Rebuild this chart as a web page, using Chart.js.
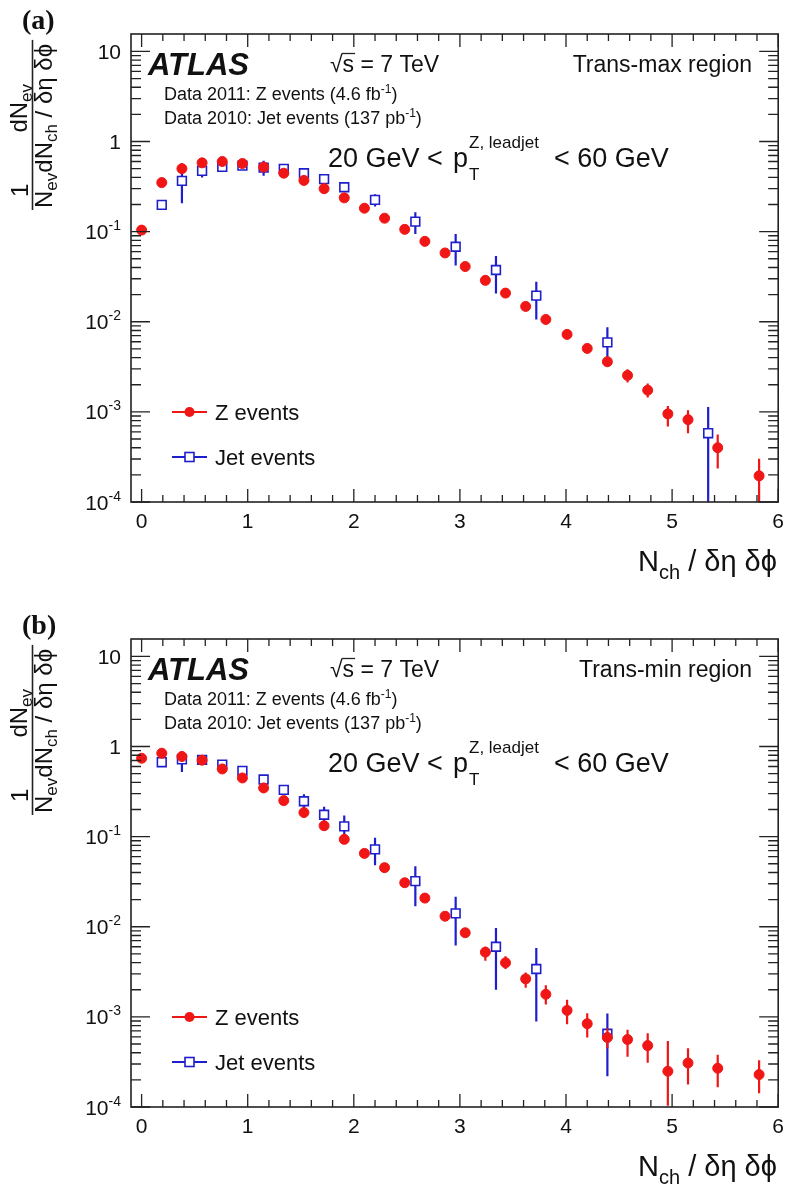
<!DOCTYPE html>
<html>
<head>
<meta charset="utf-8">
<title>Nch density, trans-max / trans-min</title>
<script src="https://cdn.jsdelivr.net/npm/chart.js@4.4.0/dist/chart.umd.min.js"></script>
<style>
  html, body { margin: 0; padding: 0; background: #fff; }
  #page { position: relative; width: 786px; height: 1197px; overflow: hidden; background: #fff; }
  .panel { position: absolute; left: 0; width: 786px; }
</style>
</head>
<body>
<div id="page">
  <div class="panel" style="top:0;height:605px"><canvas id="chartA" width="786" height="605"></canvas></div>
  <div class="panel" style="top:605px;height:592px"><canvas id="chartB" width="786" height="592"></canvas></div>
</div>
<script>
// Axis ticks
const xTicks = [0, 1, 2, 3, 4, 5, 6];
const yTickExps = [-4, -3, -2, -1, 0, 1];

// Z events bin positions (same for both panels)
const zX = [0, 0.19, 0.38, 0.57, 0.76, 0.95, 1.15, 1.34, 1.53, 1.72, 1.91, 2.10, 2.29, 2.48, 2.67,
            2.86, 3.05, 3.24, 3.43, 3.62, 3.81, 4.01, 4.20, 4.39, 4.58, 4.77, 4.96, 5.15, 5.43, 5.82];

// (a) Trans-max region
const zA = [0.104, 0.35, 0.50, 0.58, 0.60, 0.57, 0.52, 0.445, 0.37, 0.30, 0.237, 0.182, 0.141, 0.106, 0.078,
            0.058, 0.041, 0.0288, 0.0208, 0.0148, 0.0106, 0.00724, 0.00506, 0.0036, 0.00254, 0.00174, 0.00095, 0.00082, 0.0004, 0.000195];
const zAlo = [null, null, null, null, null, null, null, null, null, null, null, null, null, null, null,
              null, null, null, null, null, null, 0.0066, 0.0046, 0.0032, 0.00212, 0.00144, 0.00069, 0.00058, 0.000235, 0.00005];
const zAhi = [null, null, null, null, null, null, null, null, null, null, null, null, null, null, null,
              null, null, null, null, null, null, 0.0079, 0.0056, 0.0041, 0.00297, 0.00206, 0.00116, 0.00104, 0.00056, 0.000301];

const jetXA = [0.19, 0.38, 0.57, 0.76, 0.95, 1.15, 1.34, 1.53, 1.72, 1.91, 2.20, 2.58, 2.96, 3.34, 3.72, 4.39, 5.34];
const jetA = [0.198, 0.366, 0.472, 0.524, 0.541, 0.514, 0.497, 0.445, 0.382, 0.311, 0.225, 0.129, 0.068, 0.0375, 0.0195, 0.0059, 0.00058];
const jetAlo = [null, 0.207, 0.398, 0.47, null, 0.416, 0.45, null, null, 0.28, 0.19, 0.094, 0.042, 0.0206, 0.0106, 0.0032, 0.00001];
const jetAhi = [null, 0.575, 0.527, 0.58, null, 0.61, 0.55, null, null, 0.345, 0.26, 0.164, 0.094, 0.0536, 0.0278, 0.0087, 0.00113];

// (b) Trans-min region
const zB = [0.741, 0.843, 0.774, 0.705, 0.564, 0.448, 0.347, 0.251, 0.185, 0.132, 0.0933, 0.0652, 0.0453, 0.0308, 0.0208,
            0.0131, 0.00858, 0.00523, 0.00398, 0.00264, 0.00178, 0.00118, 0.00084, 0.00059, 0.00056, 0.00048, 0.000249, 0.000308, 0.000269, 0.000229];
const zBlo = [null, null, null, null, null, null, null, null, null, null, null, null, null, null, null,
              null, 0.0077, 0.0042, 0.0034, 0.0021, 0.00137, 0.00083, 0.00059, 0.00045, 0.00036, 0.00031, 0.000103, 0.000178, 0.000166, 0.000142];
const zBhi = [null, null, null, null, null, null, null, null, null, null, null, null, null, null, null,
              null, 0.0096, 0.006, 0.0047, 0.0031, 0.00224, 0.00155, 0.0011, 0.00075, 0.00072, 0.00066, 0.00054, 0.00045, 0.00038, 0.00033];

const jetXB = [0.19, 0.38, 0.57, 0.76, 0.95, 1.15, 1.34, 1.53, 1.72, 1.91, 2.20, 2.58, 2.96, 3.34, 3.72, 4.39];
const jetB = [0.67, 0.72, 0.71, 0.63, 0.536, 0.43, 0.33, 0.247, 0.175, 0.13, 0.0722, 0.0321, 0.0141, 0.006, 0.0034, 0.00065];
const jetBlo = [null, 0.52, null, 0.58, null, null, 0.30, 0.20, 0.137, 0.094, 0.048, 0.0169, 0.0062, 0.002, 0.00089, 0.00022];
const jetBhi = [null, 0.89, null, 0.68, null, null, 0.36, 0.295, 0.215, 0.172, 0.0974, 0.047, 0.0215, 0.0097, 0.0058, 0.00109];

// Styling
const FONT = '"Liberation Sans", Arial, Helvetica, sans-serif';
const RED = '#f01616';
const BLUE = '#1e1ecc';
const INK = '#111';
const DETA_DPHI = ' / \u03b4\u03b7 \u03b4\u03d5';

// Draw a run of text pieces (size / vertical shift / style) starting at x
function drawParts(ctx, parts, x, y) {
    let cx = x;
    parts.forEach(p => {
        ctx.font = (p.style || '') + ' ' + p.s + 'px ' + FONT;
        ctx.fillText(p.t, cx, y + (p.dy || 0));
        cx += ctx.measureText(p.t).width;
    });
    return cx;
}

function partsWidth(ctx, parts) {
    let w = 0;
    parts.forEach(p => {
        ctx.font = (p.style || '') + ' ' + p.s + 'px ' + FONT;
        w += ctx.measureText(p.t).width;
    });
    return w;
}

// Vertical error bars, drawn just under each dataset's markers
const errorBars = {
    id: 'errorBars',
    beforeDatasetDraw(chart, args) {
        const ds = chart.data.datasets[args.index];
        if (!ds.errLo) return;
        const ctx = chart.ctx, xs = chart.scales.x, ys = chart.scales.y, a = chart.chartArea;
        ctx.save();
        ctx.beginPath();
        ctx.rect(a.left, a.top, a.right - a.left, a.bottom - a.top);
        ctx.clip();
        ctx.strokeStyle = ds.borderColor;
        ctx.lineWidth = 2.2;
        ds.data.forEach((p, i) => {
            if (ds.errLo[i] == null) return;
            const px = xs.getPixelForValue(p.x);
            ctx.beginPath();
            ctx.moveTo(px, ys.getPixelForValue(ds.errLo[i]));
            ctx.lineTo(px, ys.getPixelForValue(ds.errHi[i]));
            ctx.stroke();
        });
        ctx.restore();
    }
};

// ROOT-like frame, inward ticks, labels and annotations
const rootFrame = {
    id: 'rootFrame',
    afterDraw(chart, args, opts) {
        const ctx = chart.ctx, a = chart.chartArea, xs = chart.scales.x, ys = chart.scales.y;
        ctx.save();
        ctx.strokeStyle = '#222';
        ctx.fillStyle = INK;

        // frame
        ctx.lineWidth = 1.6;
        ctx.strokeRect(a.left, a.top, a.right - a.left, a.bottom - a.top);

        // x ticks (major every 1, minor every 0.2), bottom and top
        ctx.lineWidth = 1.3;
        ctx.beginPath();
        for (let i = 0; i <= 30; i++) {
            const px = xs.getPixelForValue(i * 0.2);
            const len = i % 5 === 0 ? 13 : 7;
            ctx.moveTo(px, a.bottom); ctx.lineTo(px, a.bottom - len);
            ctx.moveTo(px, a.top); ctx.lineTo(px, a.top + len);
        }
        // y ticks (major at decades, minor at 2..9), left and right
        ys.ticks.forEach(t => {
            for (let m = 1; m <= 9; m++) {
                const v = t.value * m;
                if (v > ys.max) break;
                const py = ys.getPixelForValue(v);
                const len = m === 1 ? 19 : 10;
                ctx.moveTo(a.left, py); ctx.lineTo(a.left + len, py);
                ctx.moveTo(a.right, py); ctx.lineTo(a.right - len, py);
            }
        });
        ctx.stroke();

        // x tick labels
        ctx.textAlign = 'center';
        ctx.textBaseline = 'alphabetic';
        ctx.font = '21px ' + FONT;
        xs.ticks.forEach(t => {
            ctx.fillText(String(t.value), xs.getPixelForValue(t.value), a.bottom + 26);
        });

        // y tick labels: 10, 1, 10^-1 ...
        ctx.textAlign = 'left';
        ys.ticks.forEach(t => {
            const e = Math.round(Math.log10(t.value));
            let parts;
            if (e === 1) parts = [{t: '10', s: 21}];
            else if (e === 0) parts = [{t: '1', s: 21}];
            else parts = [{t: '10', s: 21}, {t: String(e), s: 14, dy: -9}];
            const w = partsWidth(ctx, parts);
            drawParts(ctx, parts, 121 - w, ys.getPixelForValue(t.value) + 7.5);
        });

        // panel letter
        ctx.font = 'bold 28px "Liberation Serif", "Times New Roman", serif';
        ctx.fillText(opts.letter, 22, 29);

        // y axis title, rotated: 1/N_ev  dN_ev / (dN_ch / δη δφ)
        ctx.save();
        ctx.rotate(-Math.PI / 2);
        const denA = [{t: 'N', s: 24}, {t: 'ev', s: 17, dy: 5}];
        const denB = [{t: 'dN', s: 24}, {t: 'ch', s: 17, dy: 5}, {t: DETA_DPHI, s: 24}];
        const numB = [{t: 'dN', s: 24}, {t: 'ev', s: 17, dy: 5}];
        const u0 = -208;
        const wA = partsWidth(ctx, denA), wB = partsWidth(ctx, denB);
        drawParts(ctx, denA, u0, 52);
        drawParts(ctx, denB, u0 + wA, 52);
        ctx.font = '24px ' + FONT;
        const w1 = ctx.measureText('1').width;
        ctx.fillText('1', u0 + (wA - w1) / 2, 28);
        const wn = partsWidth(ctx, numB);
        drawParts(ctx, numB, u0 + wA + (wB - wn) / 2, 27);
        ctx.lineWidth = 1.6;
        ctx.beginPath();
        ctx.moveTo(u0 - 2, 32.5);
        ctx.lineTo(u0 + wA + wB + 4, 32.5);
        ctx.stroke();
        ctx.restore();

        // x axis title
        ctx.textAlign = 'left';
        const xt = [{t: 'N', s: 29}, {t: 'ch', s: 20, dy: 8}, {t: DETA_DPHI, s: 29}];
        drawParts(ctx, xt, 777 - partsWidth(ctx, xt), a.bottom + 69);

        // ATLAS label
        ctx.font = 'italic bold 31px ' + FONT;
        ctx.fillText('ATLAS', 148, 75);

        // sqrt(s) = 7 TeV
        ctx.font = '23px ' + FONT;
        const sx = 330;
        ctx.fillText('\u221a', sx, 72);
        const rw = ctx.measureText('\u221a').width;
        ctx.fillText('s = 7 TeV', sx + rw, 72);
        const sw = ctx.measureText('s').width;
        ctx.lineWidth = 1.3;
        ctx.beginPath();
        ctx.moveTo(sx + rw - 1, 53.5);
        ctx.lineTo(sx + rw + sw + 1, 53.5);
        ctx.stroke();

        // region
        ctx.textAlign = 'right';
        ctx.fillText(opts.region, 752, 72);
        ctx.textAlign = 'left';

        // luminosity lines
        drawParts(ctx, [{t: 'Data 2011: Z events (4.6 fb', s: 18}, {t: '-1', s: 12, dy: -7}, {t: ')', s: 18}], 164, 100);
        drawParts(ctx, [{t: 'Data 2010: Jet events (137 pb', s: 18}, {t: '-1', s: 12, dy: -7}, {t: ')', s: 18}], 164, 124);

        // pT range
        ctx.font = '27px ' + FONT;
        ctx.fillText('20 GeV <', 328, 167);
        ctx.fillText('p', 453, 167);
        ctx.font = '17px ' + FONT;
        ctx.fillText('Z, leadjet', 469, 148);
        ctx.fillText('T', 469, 180);
        ctx.font = '27px ' + FONT;
        ctx.fillText('< 60 GeV', 554, 167);

        // legend
        const rows = [
            {label: 'Z events', color: RED, style: 'circle', y: 412},
            {label: 'Jet events', color: BLUE, style: 'rect', y: 457}
        ];
        rows.forEach(r => {
            ctx.strokeStyle = r.color;
            ctx.lineWidth = 2.2;
            ctx.beginPath();
            ctx.moveTo(172, r.y); ctx.lineTo(207, r.y);
            ctx.stroke();
            if (r.style === 'circle') {
                ctx.fillStyle = r.color;
                ctx.beginPath();
                ctx.arc(189.5, r.y, 5, 0, Math.PI * 2);
                ctx.fill();
            } else {
                ctx.fillStyle = '#fff';
                ctx.lineWidth = 1.6;
                ctx.fillRect(185, r.y - 4.5, 9, 9);
                ctx.strokeRect(185, r.y - 4.5, 9, 9);
            }
            ctx.fillStyle = INK;
            ctx.font = '22px ' + FONT;
            ctx.fillText(r.label, 215, r.y + 8);
        });

        ctx.restore();
    }
};

function makePanel(canvasId, height, letter, region, zY, zLo, zHi, jX, jY, jLo, jHi) {
    const ctx = document.getElementById(canvasId);
    if (!ctx) return null;

    const config = {
        type: 'scatter',
        data: {
            datasets: [
                {
                    label: 'Z events',
                    data: zX.map((x, i) => ({x: x, y: zY[i]})),
                    errLo: zLo,
                    errHi: zHi,
                    pointStyle: 'circle',
                    pointRadius: 5,
                    backgroundColor: RED,
                    borderColor: RED,
                    borderWidth: 1
                },
                {
                    label: 'Jet events',
                    data: jX.map((x, i) => ({x: x, y: jY[i]})),
                    errLo: jLo,
                    errHi: jHi,
                    pointStyle: 'rect',
                    pointRadius: 6.2,
                    backgroundColor: '#fff',
                    borderColor: BLUE,
                    borderWidth: 1.6
                }
            ]
        },
        options: {
            responsive: false,
            animation: false,
            devicePixelRatio: 1,
            layout: { padding: { top: 34, right: 6, left: 0, bottom: 0 } },
            scales: {
                x: {
                    type: 'linear',
                    min: -0.1,
                    max: 6,
                    afterBuildTicks: s => { s.ticks = xTicks.map(v => ({value: v})); },
                    afterFit: s => { s.height = height - 502; },
                    ticks: { display: false },
                    grid: { display: false },
                    border: { display: false }
                },
                y: {
                    type: 'logarithmic',
                    min: 1e-4,
                    max: 15.6,
                    afterBuildTicks: s => { s.ticks = yTickExps.map(e => ({value: Math.pow(10, e)})); },
                    afterFit: s => { s.width = 131; },
                    ticks: { display: false },
                    grid: { display: false },
                    border: { display: false }
                }
            },
            plugins: {
                legend: { display: false },
                tooltip: { enabled: false },
                rootFrame: { letter: letter, region: region }
            }
        },
        plugins: [errorBars, rootFrame]
    };

    try {
        return new Chart(ctx, config);
    } catch (error) {
        console.error('Error creating chart ' + canvasId + ':', error);
        return null;
    }
}

makePanel('chartA', 605, '(a)', 'Trans-max region', zA, zAlo, zAhi, jetXA, jetA, jetAlo, jetAhi);
makePanel('chartB', 592, '(b)', 'Trans-min region', zB, zBlo, zBhi, jetXB, jetB, jetBlo, jetBhi);
</script>
</body>
</html>
